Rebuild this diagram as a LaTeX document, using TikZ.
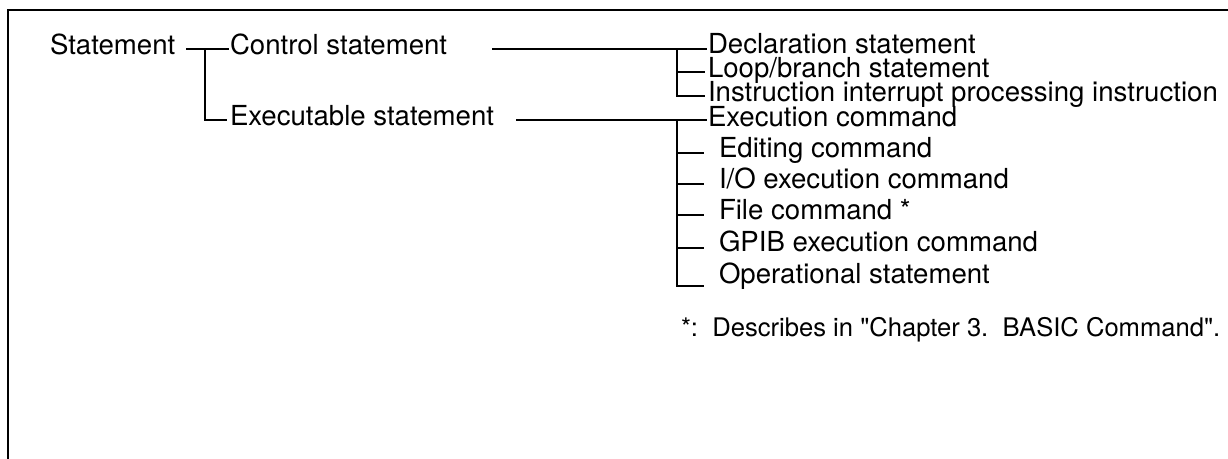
\documentclass[tikz,border=0pt]{standalone}
\usepackage{fontspec}
\newfontfamily\heros{TeX Gyre Heros}
\begin{document}
\begin{tikzpicture}[x=0.5pt, y=-0.5pt, line width=1pt,
    every node/.style={anchor=base west, inner sep=0pt, font=\heros\fontsize{13.8}{16}\selectfont}]
            \useasboundingbox (0,0) rectangle (1228,459);
            % frame
            \draw (8,459) -- (8,10) -- (1228,10);
            % level 1 and 2
            \node (stmt) at (49,55) {Statement};
            \node (ctrl) at (229,55) {Control statement};
            \node (exec) at (229,126) {Executable statement};
            % control group
            \node (decl) at (707,54) {Declaration statement};
            \node (loop) at (707,78) {Loop/branch statement};
            \node (intr) at (707,102) {Instruction interrupt processing instruction};
            % executable group
            \node (excmd) at (707,127) {Execution command};
            \node (edit) at (718,158) {Editing command};
            \node (io) at (718,189) {I/O execution command};
            \node (file) at (718,220) {File command *};
            \node (gpib) at (718,252) {GPIB execution command};
            \node (oper) at (718,284) {Operational statement};
            \node[font=\heros\fontsize{12.8}{15}\selectfont] (note) at (680,337)
                {*:\ \ Describes in "Chapter 3.\ \ BASIC Command".};
            % junctions
            \coordinate (s0) at (186,49);
            \coordinate (s1) at (205,49);
            \coordinate (c0) at (492,49);
            \coordinate (c1) at (677,49);
            \coordinate (e0) at (516,120);
            \coordinate (e1) at (677,120);
            % connectors
            \draw (s0) -- (ctrl.west |- s0);
            \draw (s1) |- ([xshift=-1pt]exec.west |- 0,120);
            \draw (c0) -- (decl.west |- c0);
            \draw (c1) |- ([xshift=-1pt]loop.west |- 0,72);
            \draw (c1) |- ([xshift=-1pt]intr.west |- 0,96);
            \draw (e0) -- (excmd.west |- e0);
            \draw (e1) |- ([xshift=-7pt]edit.west |- 0,153);
            \draw (e1) |- ([xshift=-7pt]io.west |- 0,184);
            \draw (e1) |- ([xshift=-7pt]file.west |- 0,215);
            \draw (e1) |- ([xshift=-7pt]gpib.west |- 0,248);
            \draw (e1) |- ([xshift=-7pt]oper.west |- 0,286);
        \end{tikzpicture}
\end{document}
